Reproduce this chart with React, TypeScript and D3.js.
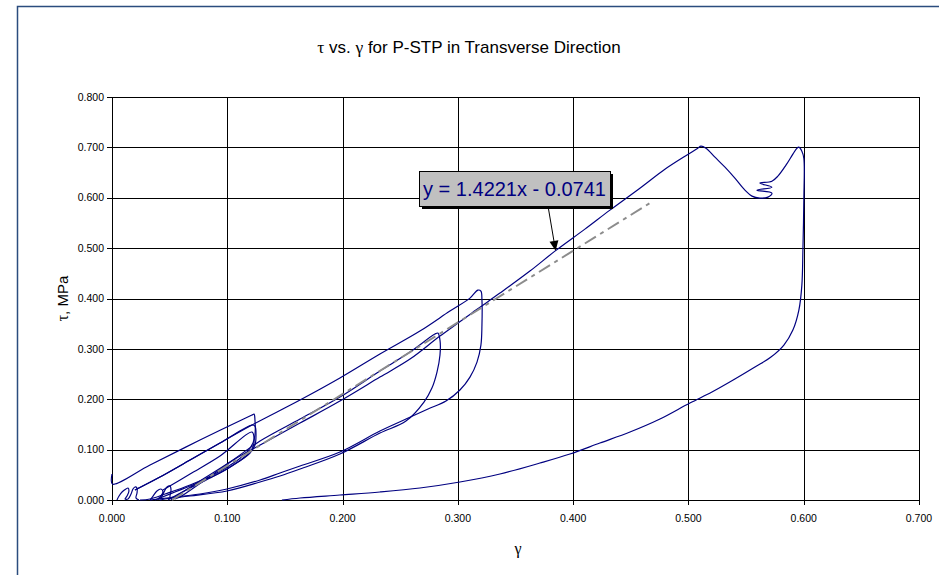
import React from "react";
import * as d3 from "d3";

// ---- data -------------------------------------------------------------
// Shear strain (gamma) vs. shear stress (tau, MPa) recorded over successive
// load / unload cycles. Each cycle is kept as its own [gamma, tau] list.

const smallLoopsA: [number, number][] = [
  [0.0043, 0], [0.0061, 0.0079], [0.0087, 0.0159], [0.0121, 0.0218], [0.0139, 0.0238],
  [0.0147, 0.0179], [0.013, 0.0079], [0.0113, 0.002], [0.0139, 0.002], [0.0165, 0.0119],
  [0.0182, 0.0218], [0.0199, 0.0258], [0.0217, 0.0238], [0.0217, 0.0139], [0.0208, 0.004],
  [0.0234, 0],
];

const smallLoopsB: [number, number][] = [
  [0.033, 0], [0.0356, 0.0079], [0.039, 0.0179], [0.0425, 0.0218], [0.0442, 0.0159],
  [0.0416, 0.006], [0.0399, 0.002], [0.0425, 0.004], [0.0451, 0.0159], [0.0477, 0.0258],
  [0.0503, 0.0278], [0.0512, 0.0198], [0.0503, 0.006], [0.052, 0],
];

const cycle012a: [number, number][] = [
  [0, 0.0516], [0.0004, 0.0317], [0.033, 0.0694], [0.0763, 0.119], [0.1214, 0.1687],
  [0.1232, 0.1706], [0.124, 0.1587], [0.124, 0.129], [0.1223, 0.1131], [0.1171, 0.0952],
  [0.1067, 0.0754], [0.0893, 0.0516], [0.0677, 0.0298], [0.046, 0.0119], [0.033, 0.002],
  [0.0243, 0],
];

const cycle012b: [number, number][] = [
  [0.0199, 0.0198], [0.0416, 0.0456], [0.0677, 0.0794], [0.0937, 0.1131], [0.1214, 0.1488],
  [0.124, 0.1468], [0.1249, 0.129], [0.124, 0.1091], [0.1197, 0.0933], [0.1093, 0.0754],
  [0.0937, 0.0536], [0.072, 0.0317], [0.0546, 0.0159], [0.0416, 0.004], [0.0373, 0],
];

const cycle012c: [number, number][] = [
  [0.0442, 0.0198], [0.0677, 0.0516], [0.0937, 0.0873], [0.1214, 0.1349], [0.1232, 0.123],
  [0.1223, 0.1052], [0.1162, 0.0873], [0.1023, 0.0655], [0.085, 0.0437], [0.0677, 0.0238],
  [0.0546, 0.0079], [0.0486, 0],
];

const cycle029: [number, number][] = [
  [0.0546, 0.006], [0.0763, 0.0377], [0.1023, 0.0754], [0.1284, 0.1171], [0.1631, 0.1607],
  [0.1977, 0.2044], [0.2324, 0.256], [0.2585, 0.2937], [0.2801, 0.3294], [0.2827, 0.3313],
  [0.2845, 0.3175], [0.2845, 0.2877], [0.2819, 0.254], [0.2775, 0.2222], [0.2706, 0.1944],
  [0.255, 0.1567], [0.2324, 0.1329], [0.1977, 0.0913], [0.1631, 0.0615], [0.1457, 0.0476],
  [0.1284, 0.0357], [0.0997, 0.0179], [0.0677, 0.0079], [0.046, 0.002], [0.0416, 0],
];

const cycle032: [number, number][] = [
  [0.0199, 0.0198], [0.0416, 0.0456], [0.0677, 0.0794], [0.0937, 0.1131], [0.1214, 0.1488],
  [0.1631, 0.1984], [0.1977, 0.2421], [0.2324, 0.2897], [0.2671, 0.3353], [0.2931, 0.375],
  [0.3105, 0.4008], [0.3174, 0.4167], [0.32, 0.4147], [0.3209, 0.3968], [0.3209, 0.3472],
  [0.32, 0.3075], [0.3166, 0.2738], [0.3105, 0.244], [0.3018, 0.2183], [0.2897, 0.1964],
  [0.2741, 0.1806], [0.255, 0.1607], [0.2324, 0.1369], [0.1977, 0.0952], [0.1631, 0.0675],
  [0.1457, 0.0536], [0.1284, 0.0397], [0.0997, 0.0218], [0.0763, 0.0119], [0.0477, 0.004],
  [0.033, 0],
];

const cycleFinal: [number, number][] = [
  [0.0546, 0.002], [0.059, 0.006], [0.0807, 0.0397], [0.1067, 0.0813], [0.1301, 0.1111],
  [0.1631, 0.1528], [0.1977, 0.1964], [0.2324, 0.244], [0.2585, 0.2798], [0.2845, 0.3254],
  [0.3157, 0.377], [0.3365, 0.4107], [0.3625, 0.4544], [0.3842, 0.494], [0.4102, 0.5377],
  [0.4319, 0.5754], [0.4579, 0.619], [0.4796, 0.6567], [0.497, 0.6825], [0.5082, 0.6984],
  [0.5108, 0.7024], [0.5152, 0.6984], [0.523, 0.6806], [0.5317, 0.6607], [0.5403, 0.6389],
  [0.549, 0.6151], [0.5551, 0.6032], [0.562, 0.5992], [0.569, 0.6012], [0.5724, 0.6091],
  [0.5594, 0.6151], [0.5724, 0.621], [0.562, 0.629], [0.5724, 0.6329], [0.5776, 0.6429],
  [0.5846, 0.6647], [0.5906, 0.6865], [0.5941, 0.6984], [0.5958, 0.7004], [0.5984, 0.6925],
  [0.6001, 0.6786], [0.6001, 0.5952], [0.5993, 0.496], [0.5984, 0.4266], [0.5958, 0.377],
  [0.5906, 0.3373], [0.5828, 0.3075], [0.5716, 0.2837], [0.5577, 0.2639], [0.5403, 0.2401],
  [0.5204, 0.2143], [0.5013, 0.1925], [0.4753, 0.1607], [0.4493, 0.1349], [0.4232, 0.1131],
  [0.3972, 0.0913], [0.3712, 0.0734], [0.3365, 0.0516], [0.3018, 0.0357], [0.2671, 0.0238],
  [0.2324, 0.0159], [0.1977, 0.0099], [0.1631, 0.004], [0.1474, 0],
];

const cycles = [
  smallLoopsA, smallLoopsB, cycle012a, cycle012b, cycle012c, cycle029, cycle032, cycleFinal,
];

// Linear fit shown as the trendline
const trendSlope = 1.4221;
const trendIntercept = -0.0741;
const trendRange = [0.0521, 0.4675];

const xTicks = [0, 0.1, 0.2, 0.3, 0.4, 0.5, 0.6, 0.7];
const yTicks = [0, 0.1, 0.2, 0.3, 0.4, 0.5, 0.6, 0.7, 0.8];

// ---- layout ------------------------------------------------------------
const W = 939;
const H = 575;
const plot = { left: 112, right: 919, top: 97, bottom: 500 };
const FONT = "'Liberation Sans', Arial, Helvetica, sans-serif";
const SYM = "'Liberation Serif', 'Times New Roman', serif";

export default function App() {
  const x = d3.scaleLinear().domain([0, 0.7]).range([plot.left, plot.right]);
  const y = d3.scaleLinear().domain([0, 0.8]).range([plot.bottom, plot.top]);
  const fmt = d3.format(".3f");

  const line = d3
    .line<[number, number]>()
    .x((d) => x(d[0]))
    .y((d) => y(d[1]))
    .curve(d3.curveCatmullRom.alpha(0.5));

  const trendPts: [number, number][] = trendRange.map((g) => [g, trendSlope * g + trendIntercept]);
  const trendPath = d3
    .line<[number, number]>()
    .x((d) => x(d[0]))
    .y((d) => y(d[1]))(trendPts);

  const px = (v: number) => Math.round(x(v)) + 0.5;
  const py = (v: number) => Math.round(y(v)) + 0.5;

  // equation label box and its pointer
  const box = { x: 419, y: 171, w: 191, h: 35 };
  const tipG = 0.3848;
  const tipT = 0.4946;
  const tail = { x: 548, y: box.y + box.h };
  const tip = { x: x(tipG), y: y(tipT) };
  const ang = Math.atan2(tip.y - tail.y, tip.x - tail.x);
  const headLen = 10;
  const headW = 4.5;
  const bx = tip.x - headLen * Math.cos(ang);
  const by = tip.y - headLen * Math.sin(ang);
  const nx = -Math.sin(ang);
  const ny = Math.cos(ang);
  const head = `M${tip.x},${tip.y}L${bx + nx * headW},${by + ny * headW}L${bx - nx * headW},${by - ny * headW}Z`;

  return (
    <svg
      width={W}
      height={H}
      viewBox={`0 0 ${W} ${H}`}
      style={{ position: "absolute", left: 0, top: 0, display: "block", background: "#fff" }}
    >
      <rect x={0} y={0} width={W} height={H} fill="#fff" />
      {/* chart frame */}
      <rect x={17.5} y={6.5} width={W + 20} height={H + 20} fill="none" stroke="#2B4C7E" strokeWidth={1.5} />

      {/* title */}
      <text x={469} y={53} textAnchor="middle" fontFamily={FONT} fontSize={17} fill="#000">
        <tspan fontFamily={SYM} fontSize={17.5}>τ</tspan>
        <tspan> vs. </tspan>
        <tspan fontFamily={SYM} fontSize={17.5}>γ</tspan>
        <tspan> for P-STP in Transverse Direction</tspan>
      </text>

      {/* grid */}
      <g shapeRendering="crispEdges" stroke="#000" strokeWidth={1}>
        {yTicks.map((t) => (
          <line key={`gy${t}`} x1={plot.left - 5} x2={plot.right} y1={py(t)} y2={py(t)} />
        ))}
        {xTicks.map((t) => (
          <line key={`gx${t}`} x1={px(t)} x2={px(t)} y1={plot.top} y2={plot.bottom + 5} />
        ))}
      </g>

      {/* tick labels */}
      <g fontFamily={FONT} fontSize={10.5} fill="#000">
        {yTicks.map((t) => (
          <text key={`ty${t}`} x={plot.left - 8} y={y(t) + 3.7} textAnchor="end">
            {fmt(t)}
          </text>
        ))}
        {xTicks.map((t) => (
          <text key={`tx${t}`} x={x(t)} y={plot.bottom + 22} textAnchor="middle">
            {fmt(t)}
          </text>
        ))}
      </g>

      {/* axis titles */}
      <text
        transform={`translate(68,${(plot.top + plot.bottom) / 2}) rotate(-90)`}
        textAnchor="middle"
        fontFamily={FONT}
        fontSize={15}
        fill="#000"
      >
        <tspan fontFamily={SYM} fontSize={16}>τ</tspan>
        <tspan>, MPa</tspan>
      </text>
      <text x={518} y={554} textAnchor="middle" fontFamily={SYM} fontSize={16} fill="#000">
        γ
      </text>

      {/* measured cycles */}
      <g fill="none" stroke="#000080" strokeWidth={1.2} strokeLinejoin="round">
        {cycles.map((c, i) => (
          <path key={i} d={line(c) || ""} />
        ))}
      </g>

      {/* linear trendline */}
      <path d={trendPath || ""} fill="none" stroke="#8C8C8C" strokeWidth={2} strokeDasharray="13 5 4 5" />

      {/* equation label */}
      <line x1={tail.x} y1={tail.y} x2={bx} y2={by} stroke="#000" strokeWidth={1} />
      <path d={head} fill="#000" />
      <rect x={box.x + 3} y={box.y + 3} width={box.w} height={box.h} fill="#000" />
      <rect x={box.x + 0.5} y={box.y + 0.5} width={box.w} height={box.h} fill="#C0C0C0" stroke="#000" strokeWidth={1} />
      <text
        x={box.x + box.w / 2}
        y={box.y + 25}
        textAnchor="middle"
        fontFamily={FONT}
        fontSize={20}
        fill="#000080"
      >
        y = 1.4221x - 0.0741
      </text>
    </svg>
  );
}
